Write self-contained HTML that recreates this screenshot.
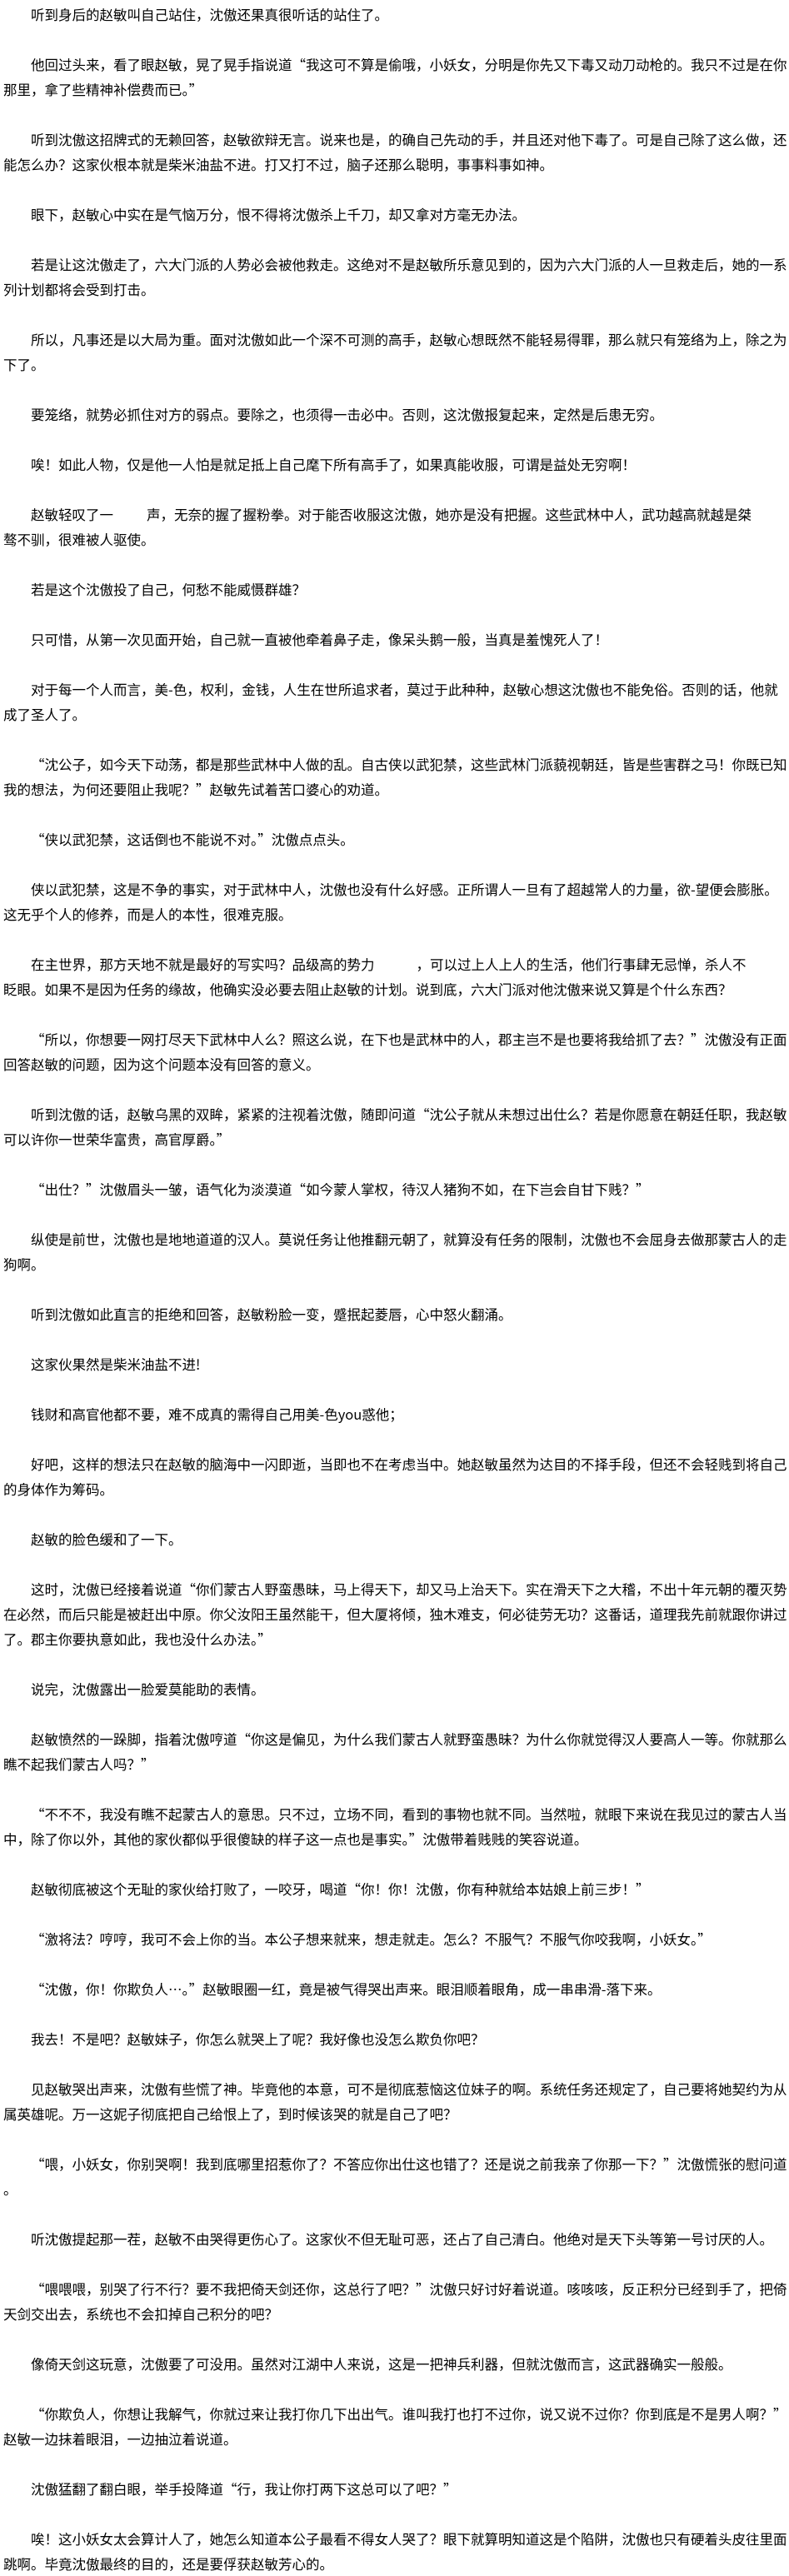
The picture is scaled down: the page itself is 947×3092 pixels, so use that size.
<!DOCTYPE html>
<html lang="zh-CN">
<head>
<meta charset="utf-8">
<style>
html,body{margin:0;padding:0;background:#fff;}
body{width:947px;height:3088px;overflow:hidden;padding-top:2px;box-sizing:border-box;
font-family:"Noto Sans CJK SC","Liberation Sans","WenQuanYi Zen Hei",sans-serif;font-size:16.5px;color:#000;}
p{margin:0 0 30px 0;padding-left:4px;line-height:30px;text-indent:33px;white-space:nowrap;}
.g{display:inline-block;width:40px;}
.g2{display:inline-block;width:50px;}
</style>
</head>
<body>
<p>听到身后的赵敏叫自己站住，沈傲还果真很听话的站住了。</p>
<p>他回过头来，看了眼赵敏，晃了晃手指说道“我这可不算是偷哦，小妖女，分明是你先又下毒又动刀动枪的。我只不过是在你<br>那里，拿了些精神补偿费而已。”</p>
<p>听到沈傲这招牌式的无赖回答，赵敏欲辩无言。说来也是，的确自己先动的手，并且还对他下毒了。可是自己除了这么做，还<br>能怎么办？这家伙根本就是柴米油盐不进。打又打不过，脑子还那么聪明，事事料事如神。</p>
<p>眼下，赵敏心中实在是气恼万分，恨不得将沈傲杀上千刀，却又拿对方毫无办法。</p>
<p>若是让这沈傲走了，六大门派的人势必会被他救走。这绝对不是赵敏所乐意见到的，因为六大门派的人一旦救走后，她的一系<br>列计划都将会受到打击。</p>
<p>所以，凡事还是以大局为重。面对沈傲如此一个深不可测的高手，赵敏心想既然不能轻易得罪，那么就只有笼络为上，除之为<br>下了。</p>
<p>要笼络，就势必抓住对方的弱点。要除之，也须得一击必中。否则，这沈傲报复起来，定然是后患无穷。</p>
<p>唉！如此人物，仅是他一人怕是就足抵上自己麾下所有高手了，如果真能收服，可谓是益处无穷啊！</p>
<p>赵敏轻叹了一<span class="g"></span>声，无奈的握了握粉拳。对于能否收服这沈傲，她亦是没有把握。这些武林中人，武功越高就越是桀<br>骜不驯，很难被人驱使。</p>
<p>若是这个沈傲投了自己，何愁不能威慑群雄？</p>
<p>只可惜，从第一次见面开始，自己就一直被他牵着鼻子走，像呆头鹅一般，当真是羞愧死人了！</p>
<p>对于每一个人而言，美-色，权利，金钱，人生在世所追求者，莫过于此种种，赵敏心想这沈傲也不能免俗。否则的话，他就<br>成了圣人了。</p>
<p>“沈公子，如今天下动荡，都是那些武林中人做的乱。自古侠以武犯禁，这些武林门派藐视朝廷，皆是些害群之马！你既已知<br>我的想法，为何还要阻止我呢？”赵敏先试着苦口婆心的劝道。</p>
<p>“侠以武犯禁，这话倒也不能说不对。”沈傲点点头。</p>
<p>侠以武犯禁，这是不争的事实，对于武林中人，沈傲也没有什么好感。正所谓人一旦有了超越常人的力量，欲-望便会膨胀。<br>这无乎个人的修养，而是人的本性，很难克服。</p>
<p>在主世界，那方天地不就是最好的写实吗？品级高的势力<span class="g2"></span>，可以过上人上人的生活，他们行事肆无忌惮，杀人不<br>眨眼。如果不是因为任务的缘故，他确实没必要去阻止赵敏的计划。说到底，六大门派对他沈傲来说又算是个什么东西？</p>
<p>“所以，你想要一网打尽天下武林中人么？照这么说，在下也是武林中的人，郡主岂不是也要将我给抓了去？”沈傲没有正面<br>回答赵敏的问题，因为这个问题本没有回答的意义。</p>
<p>听到沈傲的话，赵敏乌黑的双眸，紧紧的注视着沈傲，随即问道“沈公子就从未想过出仕么？若是你愿意在朝廷任职，我赵敏<br>可以许你一世荣华富贵，高官厚爵。”</p>
<p>“出仕？”沈傲眉头一皱，语气化为淡漠道“如今蒙人掌权，待汉人猪狗不如，在下岂会自甘下贱？”</p>
<p>纵使是前世，沈傲也是地地道道的汉人。莫说任务让他推翻元朝了，就算没有任务的限制，沈傲也不会屈身去做那蒙古人的走<br>狗啊。</p>
<p>听到沈傲如此直言的拒绝和回答，赵敏粉脸一变，蹙抿起菱唇，心中怒火翻涌。</p>
<p>这家伙果然是柴米油盐不进!</p>
<p>钱财和高官他都不要，难不成真的需得自己用美-色you惑他；</p>
<p>好吧，这样的想法只在赵敏的脑海中一闪即逝，当即也不在考虑当中。她赵敏虽然为达目的不择手段，但还不会轻贱到将自己<br>的身体作为筹码。</p>
<p>赵敏的脸色缓和了一下。</p>
<p>这时，沈傲已经接着说道“你们蒙古人野蛮愚昧，马上得天下，却又马上治天下。实在滑天下之大稽，不出十年元朝的覆灭势<br>在必然，而后只能是被赶出中原。你父汝阳王虽然能干，但大厦将倾，独木难支，何必徒劳无功？这番话，道理我先前就跟你讲过<br>了。郡主你要执意如此，我也没什么办法。”</p>
<p>说完，沈傲露出一脸爱莫能助的表情。</p>
<p>赵敏愤然的一跺脚，指着沈傲哼道“你这是偏见，为什么我们蒙古人就野蛮愚昧？为什么你就觉得汉人要高人一等。你就那么<br>瞧不起我们蒙古人吗？”</p>
<p>“不不不，我没有瞧不起蒙古人的意思。只不过，立场不同，看到的事物也就不同。当然啦，就眼下来说在我见过的蒙古人当<br>中，除了你以外，其他的家伙都似乎很傻缺的样子这一点也是事实。”沈傲带着贱贱的笑容说道。</p>
<p>赵敏彻底被这个无耻的家伙给打败了，一咬牙，喝道“你！你！沈傲，你有种就给本姑娘上前三步！”</p>
<p>“激将法？哼哼，我可不会上你的当。本公子想来就来，想走就走。怎么？不服气？不服气你咬我啊，小妖女。”</p>
<p>“沈傲，你！你欺负人…。”赵敏眼圈一红，竟是被气得哭出声来。眼泪顺着眼角，成一串串滑-落下来。</p>
<p>我去！不是吧？赵敏妹子，你怎么就哭上了呢？我好像也没怎么欺负你吧？</p>
<p>见赵敏哭出声来，沈傲有些慌了神。毕竟他的本意，可不是彻底惹恼这位妹子的啊。系统任务还规定了，自己要将她契约为从<br>属英雄呢。万一这妮子彻底把自己给恨上了，到时候该哭的就是自己了吧？</p>
<p>“喂，小妖女，你别哭啊！我到底哪里招惹你了？不答应你出仕这也错了？还是说之前我亲了你那一下？”沈傲慌张的慰问道<br>。</p>
<p>听沈傲提起那一茬，赵敏不由哭得更伤心了。这家伙不但无耻可恶，还占了自己清白。他绝对是天下头等第一号讨厌的人。</p>
<p>“喂喂喂，别哭了行不行？要不我把倚天剑还你，这总行了吧？”沈傲只好讨好着说道。咳咳咳，反正积分已经到手了，把倚<br>天剑交出去，系统也不会扣掉自己积分的吧？</p>
<p>像倚天剑这玩意，沈傲要了可没用。虽然对江湖中人来说，这是一把神兵利器，但就沈傲而言，这武器确实一般般。</p>
<p>“你欺负人，你想让我解气，你就过来让我打你几下出出气。谁叫我打也打不过你，说又说不过你？你到底是不是男人啊？”<br>赵敏一边抹着眼泪，一边抽泣着说道。</p>
<p>沈傲猛翻了翻白眼，举手投降道“行，我让你打两下这总可以了吧？”</p>
<p>唉！这小妖女太会算计人了，她怎么知道本公子最看不得女人哭了？眼下就算明知道这是个陷阱，沈傲也只有硬着头皮往里面<br>跳啊。毕竟沈傲最终的目的，还是要俘获赵敏芳心的。</p>
</body>
</html>
